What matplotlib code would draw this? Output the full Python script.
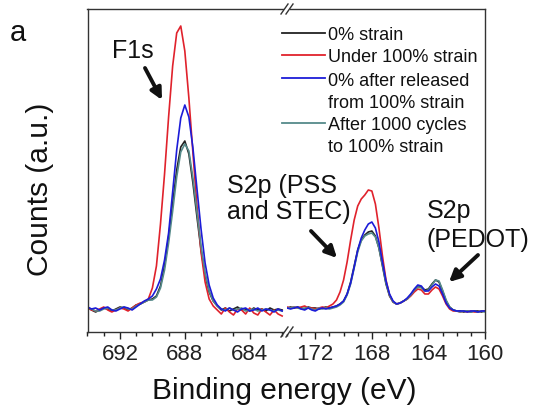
import numpy as np
import matplotlib
matplotlib.use("Agg")
import matplotlib.pyplot as plt
from matplotlib.lines import Line2D
from matplotlib.patches import Rectangle, FancyArrowPatch
from matplotlib.ticker import MultipleLocator

plt.rcParams['font.family'] = ['Liberation Sans', 'DejaVu Sans']

# ---------------- data ----------------
be_left = np.linspace(694.0, 682.0, 49)    # F1s region, 0.25 eV steps
be_right = np.linspace(174.0, 160.0, 57)   # S2p region, 0.25 eV steps

black_L = [25, 22, 20, 22, 24, 23, 21, 23, 25, 24, 22, 24, 27, 28, 30, 32, 33, 36, 46, 66,
           95, 128, 162, 185, 191, 178, 149, 115, 82, 57, 40, 31, 26, 22, 24, 21, 23, 25, 22, 23,
           21, 24, 22, 23, 21, 24, 22, 23, 22]
red_L = [24, 22, 21, 23, 25, 22, 20, 22, 24, 23, 21, 24, 27, 29, 30, 33, 44, 66, 108, 158,
         215, 266, 299, 306, 281, 234, 179, 126, 80, 50, 33, 26, 22, 18, 24, 20, 17, 23, 22, 18,
         24, 19, 17, 23, 20, 17, 22, 18, 16]
blue_L = [25, 23, 24, 22, 24, 25, 22, 21, 23, 25, 24, 22, 25, 28, 31, 33, 36, 43, 53, 72,
          99, 140, 182, 214, 227, 215, 184, 143, 103, 69, 47, 34, 27, 23, 21, 24, 22, 20, 23, 24,
          21, 22, 24, 21, 23, 22, 20, 23, 21]
teal_L = [24, 23, 21, 21, 23, 24, 22, 22, 24, 25, 23, 23, 26, 28, 30, 32, 32, 35, 44, 62,
          89, 121, 155, 180, 188, 181, 154, 120, 86, 59, 41, 31, 26, 23, 22, 24, 22, 23, 24, 21,
          22, 23, 21, 22, 23, 22, 21, 22, 21]

black_R = [24, 25, 24, 25, 24, 23, 25, 24, 24, 23, 24, 25, 24, 25, 26, 28, 31, 38, 50, 66,
           82, 92, 97, 100, 101, 96, 84, 66, 48, 36, 30, 28, 29, 31, 33, 37, 42, 45, 45, 42,
           43, 48, 52, 50, 41, 31, 25, 22, 21, 21, 20, 21, 20, 21, 21, 20, 21]
red_R = [25, 24, 25, 24, 25, 26, 24, 24, 23, 24, 25, 24, 26, 28, 32, 40, 52, 70, 92, 112,
         126, 133, 137, 142, 141, 128, 104, 76, 52, 37, 30, 28, 29, 31, 33, 36, 40, 43, 42, 38,
         38, 42, 45, 43, 36, 28, 23, 21, 21, 20, 21, 20, 21, 20, 20, 21, 21]
blue_R = [24, 23, 24, 25, 23, 22, 24, 22, 21, 23, 24, 23, 24, 25, 26, 28, 31, 38, 49, 65,
          82, 94, 102, 108, 110, 104, 90, 70, 51, 38, 31, 28, 29, 31, 34, 38, 43, 47, 46, 41,
          41, 45, 48, 46, 38, 29, 24, 22, 21, 21, 21, 20, 21, 21, 20, 21, 21]
teal_R = [24, 24, 25, 24, 23, 24, 24, 23, 22, 24, 23, 24, 23, 24, 25, 27, 30, 37, 48, 64,
          80, 91, 96, 98, 99, 95, 84, 67, 49, 37, 30, 28, 29, 31, 33, 37, 42, 45, 44, 41,
          42, 47, 52, 51, 42, 32, 25, 22, 21, 20, 21, 21, 20, 21, 20, 21, 20]

labels = ["0% strain", "Under 100% strain", "0% after released\nfrom 100% strain",
          "After 1000 cycles\nto 100% strain"]
colors = ["#222222", "#e0222c", "#1c1cd8", "#558a8a"]
left_ticks = [692, 688, 684]
right_ticks = [172, 168, 164, 160]

series_L = [black_L, red_L, teal_L, blue_L]
series_R = [black_R, red_R, teal_R, blue_R]
order = [0, 1, 3, 2]  # colour index per plotted series

# ---------------- figure ----------------
W, H = 534, 414
fig = plt.figure(figsize=(W / 100, H / 100), dpi=100)

def fx(x):
    return x / W

def fy(y):
    return 1 - y / H

x0, xb, x1 = 87.5, 287.0, 485.0
ytop, ybot = 10.0, 333.0
ax1 = fig.add_axes([fx(x0), fy(ybot), fx(xb - x0), (ybot - ytop) / H])
ax2 = fig.add_axes([fx(xb), fy(ybot), fx(x1 - xb), (ybot - ytop) / H])

for ys, ci in zip(series_L, order):
    ax1.plot(be_left, ys, color=colors[ci], lw=1.2)
for ys, ci in zip(series_R, order):
    ax2.plot(be_right, ys, color=colors[ci], lw=1.2)

ax1.set_xlim(694, 681.7)
ax2.set_xlim(174, 160)
for ax in (ax1, ax2):
    ax.set_ylim(0, 323)
    ax.set_yticks([])
    ax.xaxis.set_minor_locator(MultipleLocator(1))
    ax.tick_params(axis='x', which='major', direction='out', length=5, width=1,
                   labelsize=16, pad=3, colors='#222222')
    ax.tick_params(axis='x', which='minor', direction='out', length=3, width=1,
                   colors='#222222')
    for s in ax.spines.values():
        s.set_color('#333333')
        s.set_linewidth(1.0)
    ax.patch.set_alpha(0)
ax1.set_xticks(left_ticks)
ax2.set_xticks(right_ticks)
ax1.spines['right'].set_visible(False)
ax2.spines['left'].set_visible(False)

# break marks
for yb in (ytop, ybot):
    fig.patches.append(Rectangle((fx(283.5), fy(yb + 2)), fx(6), 4 / H,
                                 transform=fig.transFigure, facecolor='white',
                                 edgecolor='none', zorder=5))
    for dx in (0, 5):
        fig.lines.append(Line2D([fx(281 + dx), fx(288 + dx)], [fy(yb + 5), fy(yb - 5)],
                                transform=fig.transFigure, color='#333333', lw=1.0, zorder=6))

# legend (manual)
hy = [34, 56, 79, 124]
ty = [[34], [56], [79, 101], [124, 146]]
for i in range(4):
    fig.lines.append(Line2D([fx(282), fx(325)], [fy(hy[i]), fy(hy[i])],
                            transform=fig.transFigure, color=colors[i], lw=1.3))
    for line, yy in zip(labels[i].split("\n"), ty[i]):
        fig.text(fx(328), fy(yy), line, fontsize=13, ha='left', va='center_baseline',
                 color='#111111')

# labels
fig.text(fx(284), fy(388), "Binding energy (eV)", fontsize=21.5, ha='center',
         va='center_baseline', color='#111111')
fig.text(fx(40), fy(189), "Counts (a.u.)", fontsize=21.5, ha='center', va='center',
         rotation=90, color='#111111')
fig.text(fx(18), fy(30), "a", fontsize=21, ha='center', va='center_baseline', color='#111111')

# annotations
fig.text(fx(112), fy(48), "F1s", fontsize=18, ha='left', va='center_baseline', color='#111111')
fig.text(fx(227), fy(184), "S2p (PSS", fontsize=18, ha='left', va='center_baseline', color='#111111')
fig.text(fx(227), fy(210), "and STEC)", fontsize=18, ha='left', va='center_baseline', color='#111111')
fig.text(fx(427), fy(209), "S2p", fontsize=18, ha='left', va='center_baseline', color='#111111')
fig.text(fx(427), fy(238), "(PEDOT)", fontsize=18, ha='left', va='center_baseline', color='#111111')

arrows = [((145, 69), (162, 101)), ((311, 232), (337, 259)), ((478, 256), (449, 283))]
for (tx, tyy), (hx, hyy) in arrows:
    fig.add_artist(FancyArrowPatch(
        (fx(tx), fy(tyy)), (fx(hx), fy(hyy)), transform=fig.transFigure,
        arrowstyle='-|>', mutation_scale=17, lw=2.8, color='#111111',
        shrinkA=0, shrinkB=0))

fig.savefig("out.png", dpi=100)
